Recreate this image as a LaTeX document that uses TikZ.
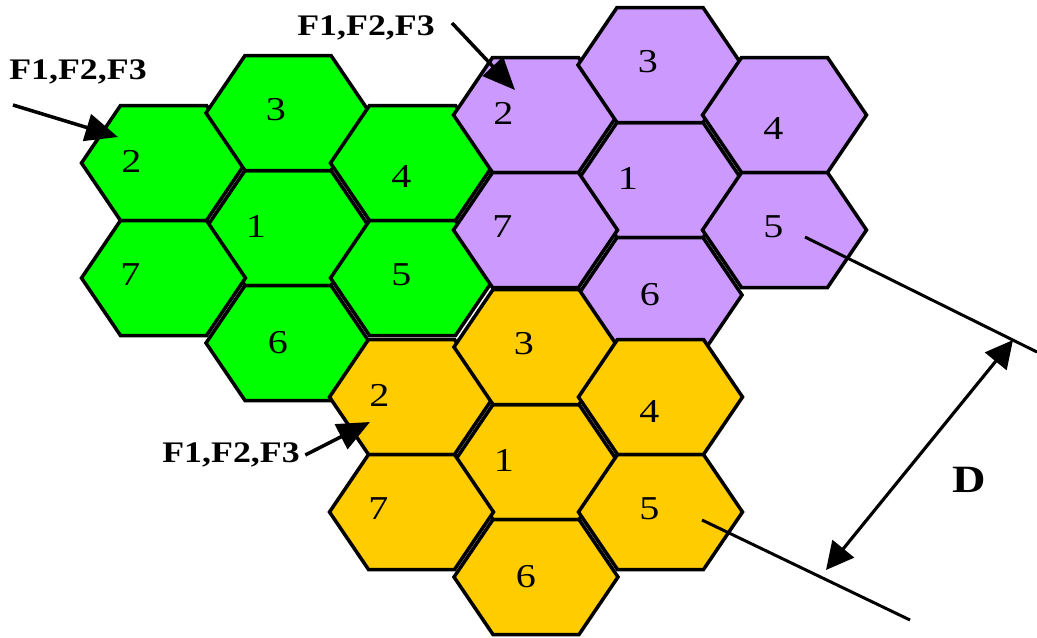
\documentclass[tikz,border=0pt]{standalone}
\usepackage{fontspec}
\setmainfont[FakeStretch=1.2]{Liberation Serif}
\usetikzlibrary{arrows.meta}

\definecolor{cellgreen}{RGB}{0,255,0}
\definecolor{cellpurple}{RGB}{204,153,255}
\definecolor{cellorange}{RGB}{255,204,0}

\begin{document}
\begin{tikzpicture}[x=0.02cm, y=-0.02cm,
    hexcell/.style={draw=black, line width=2pt, line join=miter},
    celllbl/.style={font=\fontsize{19}{19}\selectfont, inner sep=0pt},
    freqlbl/.style={font=\bfseries\fontsize{17}{17}\selectfont, inner sep=0pt},
    feedarrow/.style={line width=2pt, -{Triangle[length=0.65cm, width=0.55cm]}},
    reuseline/.style={line width=1.7pt},
    distarrow/.style={line width=1.8pt,
      {Triangle[length=0.55cm, width=0.55cm]}-{Triangle[length=0.55cm, width=0.55cm]}}
  ]
  \useasboundingbox (0,0) rectangle (1037,637);
  \def\hw{82}
  \def\he{43}
  \def\hh{57.5}
  % three clusters of seven cells, cell 1 in the middle
  \foreach \clr/\cx/\cy/\pre in {cellgreen/288/228/g, cellpurple/660/180/p, cellorange/536/462/o}{
    \foreach \n/\dx/\dy/\lx/\ly in {%
      1/0/0/-32/-2,
      2/-124.5/-65/-32/-2,
      3/0/-115/-12/-3,
      4/124.5/-65/-11/14,
      5/124.5/50/-11/-3,
      6/0/115/-10/0,
      7/-124.5/50/-33/-3%
    }{
      \filldraw[hexcell, fill=\clr, shift={(\cx+\dx,\cy+\dy)}]
        (-\hw,0) -- (-\he,-\hh) -- (\he,-\hh) -- (\hw,0) -- (\he,\hh) -- (-\he,\hh) -- cycle;
      \node[celllbl] (\pre\n) at (\cx+\dx+\lx,\cy+\dy+\ly) {\n};
    }
  }

  % frequency sets fed into cell 2
  \node[freqlbl] (fg) at (78,72) {F1,F2,F3};
  \node[freqlbl] (fp) at (366,28) {F1,F2,F3};
  \node[freqlbl, inner sep=3pt] (fo) at (231,455) {F1,F2,F3};
  \coordinate (gtail) at (13,105);
  \coordinate (gfeed) at (118,137);
  \coordinate (ptail) at (452,23);
  \coordinate (pfeed) at (515,90);
  \coordinate (ofeed) at (370,422);
  \draw[feedarrow] (gtail) -- (gfeed);
  \draw[feedarrow] (ptail) -- (pfeed);
  \draw[feedarrow] (fo.east) -- (ofeed);

  % reuse distance
  \coordinate (pref) at (805,237);
  \coordinate (pend) at (1037,352);
  \coordinate (oref) at (702,520);
  \coordinate (oend) at (910,620);
  \coordinate (dtop) at (1013,340);
  \coordinate (dbot) at (826,570);
  \draw[reuseline] (pref) -- (pend);
  \draw[reuseline] (oref) -- (oend);
  \draw[distarrow] (dbot) -- (dtop);
  \node[font=\bfseries\fontsize{22}{22}\selectfont, inner sep=0pt] (dist) at (969,480) {D};
\end{tikzpicture}
\end{document}
